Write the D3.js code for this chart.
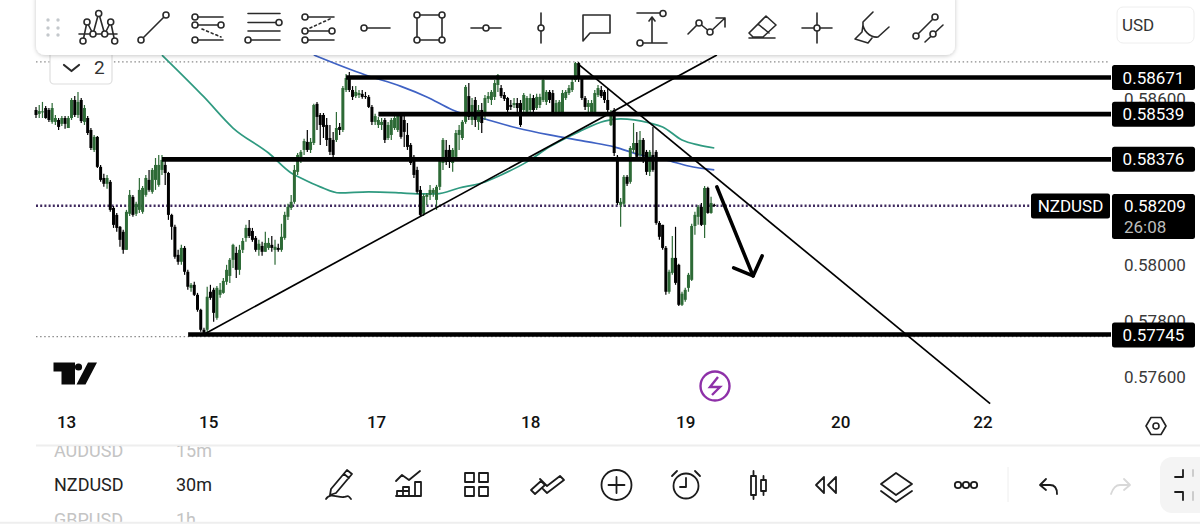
<!DOCTYPE html>
<html><head><meta charset="utf-8">
<script src="https://cdn.jsdelivr.net/npm/d3@7"></script>
<style>html,body{margin:0;padding:0;background:#fff;overflow:hidden}svg{display:block}text{font-family:Roboto,sans-serif}</style>
</head><body><svg id="c" width="1200" height="524"></svg>
<script>
// Prices are in units of 0.00001
const opens=[58554,58540,58547,58561,58554,58511,58511,58518,58504,58525,
58489,58525,58590,58536,58590,58511,58525,58482,58410,58457,
58349,58309,58288,58295,58201,58176,58133,58115,58050,58180,
58241,58180,58194,58187,58248,58302,58259,58302,58284,58338,
58356,58327,58176,58133,58032,58007,58057,57971,57913,57924,
57888,57834,57762,57762,57899,57906,57805,57888,57895,57935,
57956,58014,58039,57978,58050,58093,58129,58118,58093,58050,
58064,58043,58057,58068,58050,58057,58050,58093,58169,58201,
58223,58331,58374,58410,58439,58410,58435,58576,58536,58536,
58500,58453,58446,58446,58493,58482,58626,58669,58626,58604,
58608,58612,58604,58601,58565,58511,58500,58500,58518,58453,
58464,58489,58482,58536,58518,58464,58428,58385,58338,58266,
58180,58241,58248,58255,58230,58277,58363,58410,58410,58363,
58385,58464,58453,58511,58604,58518,58590,58511,58554,58536,
58594,58590,58601,58644,58633,58608,58597,58572,58572,58579,
58579,58554,58547,58554,58597,58561,58572,58590,58583,58619,
58615,58547,58543,58543,58597,58615,58626,58662,58723,58669,
58597,58565,58543,58543,58608,58626,58619,58590,58500,58554,
58385,58212,58216,58313,58295,58410,58435,58392,58446,58403,
58331,58392,58403,58147,58140,58057,57899,57967,58021,57996,
57852,57870,57913,57942,58136,58169,58205,58140,58273,58183,58212];
const closes=[58536,58550,58549,58525,58518,58561,58525,58493,58525,58504,
58525,58590,58536,58583,58514,58561,58471,58417,58457,58349,
58302,58288,58309,58194,58140,58129,58086,58050,58187,58248,
58176,58216,58266,58273,58309,58266,58338,58356,58356,58374,
58327,58176,58133,58025,58007,58057,57971,57917,57924,57888,
57834,57762,57751,57881,57877,57823,57913,57906,57938,57978,
58014,58068,57978,58050,58082,58129,58100,58086,58050,58072,
58043,58075,58075,58057,58061,58050,58097,58176,58205,58223,
58338,58392,58403,58442,58410,58439,58572,58529,58500,58493,
58446,58403,58392,58489,58482,58633,58669,58626,58601,58619,
58615,58601,58601,58565,58511,58532,58518,58511,58446,58500,
58518,58525,58536,58457,58475,58421,58363,58320,58259,58176,
58244,58248,58266,58266,58277,58374,58446,58367,58367,58410,
58471,58482,58511,58637,58529,58572,58518,58554,58507,58597,
58604,58619,58651,58680,58604,58594,58554,58565,58579,58561,
58500,58608,58597,58597,58554,58601,58601,58662,58619,58590,
58543,58579,58583,58615,58619,58633,58655,58723,58669,58597,
58565,58579,58579,58615,58633,58604,58590,58554,58547,58399,
58219,58223,58313,58288,58417,58435,58385,58446,58385,58331,
58403,58338,58147,58097,58057,57899,57971,58021,57931,57852,
57892,57906,57960,58136,58176,58205,58140,58273,58183,58219,58209];
const highs=[58565,58572,58583,58568,58561,58579,58536,58525,58532,58532,
58532,58597,58604,58619,58597,58572,58532,58489,58464,58460,
58356,58324,58320,58302,58208,58183,58136,58122,58194,58266,
58248,58223,58309,58280,58320,58338,58345,58381,58392,58392,
58374,58331,58180,58140,58050,58068,58064,57978,57931,57935,
57895,57838,57769,57917,57924,57913,57920,57931,57949,57996,
58021,58072,58061,58068,58093,58140,58158,58129,58100,58086,
58079,58115,58093,58100,58086,58072,58144,58187,58216,58248,
58356,58399,58410,58450,58482,58453,58576,58583,58543,58543,
58525,58500,58475,58547,58507,58640,58684,58691,58640,58640,
58626,58626,58619,58608,58572,58540,58529,58525,58525,58511,
58525,58536,58547,58543,58536,58507,58435,58392,58349,58280,
58252,58255,58284,58273,58284,58381,58453,58446,58428,58417,
58482,58500,58518,58644,58651,58597,58601,58572,58579,58608,
58619,58626,58662,58684,58644,58619,58601,58590,58597,58597,
58590,58615,58604,58612,58608,58612,58612,58669,58626,58626,
58626,58590,58590,58626,58626,58644,58669,58727,58727,58676,
58604,58590,58590,58626,58644,58640,58626,58633,58554,58561,
58392,58237,58320,58320,58424,58507,58475,58478,58453,58410,
58410,58493,58410,58154,58140,58064,57978,58100,58133,58000,
57899,57913,57967,58144,58187,58212,58219,58280,58277,58241,58216];
const lows=[58525,58525,58525,58522,58511,58504,58500,58482,58496,58486,
58489,58518,58529,58525,58507,58500,58464,58410,58403,58345,
58295,58277,58270,58187,58129,58115,58061,58036,58050,58172,
58169,58172,58183,58180,58241,58259,58252,58266,58277,58320,
58284,58158,58086,58018,57996,57996,57960,57906,57899,57884,
57827,57755,57744,57748,57870,57791,57798,57877,57892,57924,
57931,57985,57949,57960,58039,58079,58093,58079,58043,58029,
58029,58043,58050,58043,57996,58043,58043,58086,58158,58194,
58216,58320,58363,58392,58403,58399,58428,58482,58428,58453,
58424,58392,58385,58439,58464,58475,58619,58619,58590,58597,
58597,58594,58594,58561,58500,58500,58489,58482,58435,58446,
58446,58482,58475,58450,58421,58410,58356,58309,58252,58169,
58172,58212,58230,58241,58194,58266,58338,58356,58345,58331,
58374,58410,58446,58504,58518,58500,58493,58482,58471,58518,
58579,58572,58590,58619,58597,58586,58547,58554,58561,58547,
58493,58547,58536,58547,58547,58554,58561,58583,58572,58579,
58536,58540,58536,58536,58590,58608,58619,58655,58655,58590,
58554,58547,58540,58536,58601,58597,58579,58547,58496,58388,
58212,58133,58205,58280,58288,58399,58381,58385,58363,58320,
58316,58331,58140,58086,58050,57888,57892,57960,57924,57848,
57848,57863,57899,57938,58104,58140,58136,58093,58180,58180,58205];
const greenMaBar=[39,52,61,72,79,82,88,94,103,113,118,124,131,138,144,152,159,168,176,181,190,194,200,205,210];
const greenMa=[58752,58601,58489,58399,58327,58309,58277,58255,58259,58255,58252,58252,58273,58291,58320,58367,58421,58475,58514,58522,58507,58493,58446,58428,58417];
const blueMaBar=[86,102,113,121,129,140,149,159,171,179,187,195,202,210];
const blueMa=[58752,58680,58639,58601,58554,58518,58489,58464,58439,58421,58392,58374,58352,58338];
const levels=[58671,58539,58376,57745];
const levelStartBar=[96,106,39,47.1];
const levelLabels=["0.58671","0.58539","0.58376","0.57745"];
const priceTicks=[58600,58000,57800,57600];
const lastPrice=58209, sessionHigh=58727, sessionLow=57737;
const dayBars=[9.3,53.3,105.3,153,201,249,293];
const dayLabels=["13","15","17","18","19","20","22"];
const trendUp=[[52.3,57748],[210.8,58752]];
const trendDown=[[167.8,58720],[295.4,57496]];
const arrowShaft=[[210.8,58277],[222,57956]];
const arrowHead=[[216,57985],[222,57956],[224.8,58028]];

const svg=d3.select("#c");
const x=d3.scaleLinear().domain([0,300]).range([36,1005]);
const y=d3.scaleLinear().domain([57745,58671]).range([334.5,77.5]);
const INK="#000",GREEN="#2d6a36";
const candleData=d3.range(opens.length).map(i=>({i,o:opens[i],c:closes[i],h:highs[i],l:lows[i]}));
const plot=svg.append("g");

// dotted range lines
[[sessionHigh,"#8a8a8a",1.3,"1.5 2.6"],[sessionLow,"#8a8a8a",1.3,"1.5 2.6"],[lastPrice,"#3f2a5e",2.5,"2 2.2"]].forEach(d=>{
  plot.append("line").attr("x1",36).attr("x2",d[0]===lastPrice?1031:1110).attr("y1",y(d[0])).attr("y2",y(d[0]))
   .attr("stroke",d[1]).attr("stroke-width",d[2]).attr("stroke-dasharray",d[3]);
});
// moving averages
const ln=d3.line().x(d=>x(d[0])).y(d=>y(d[1])).curve(d3.curveMonotoneX);
plot.append("path").attr("d",ln(d3.zip(blueMaBar,blueMa))).attr("fill","none").attr("stroke","#3f62c4").attr("stroke-width",1.7);
plot.append("path").attr("d",ln(d3.zip(greenMaBar,greenMa))).attr("fill","none").attr("stroke","#2f9a80").attr("stroke-width",1.7);
// candles
const cg=plot.selectAll("g.k").data(candleData).join("g").attr("class","k");
const col=d=>d.c>=d.o?GREEN:INK;
cg.append("line").attr("x1",d=>x(d.i)).attr("x2",d=>x(d.i)).attr("y1",d=>y(d.h)).attr("y2",d=>y(d.l)).attr("stroke",col).attr("stroke-width",1.2);
cg.append("rect").attr("x",d=>x(d.i)-1.5).attr("width",3).attr("y",d=>y(Math.max(d.o,d.c))).attr("height",d=>Math.max(1,Math.abs(y(d.o)-y(d.c)))).attr("fill",col);
// trend lines
const tl=d3.line().x(d=>x(d[0])).y(d=>y(d[1]));
[trendUp,trendDown].forEach(t=>plot.append("path").attr("d",tl(t)).attr("fill","none").attr("stroke",INK).attr("stroke-width",1.7));
// levels
levels.forEach((v,i)=>plot.append("line").attr("x1",x(levelStartBar[i])).attr("x2",1111).attr("y1",y(v)).attr("y2",y(v)).attr("stroke",INK).attr("stroke-width",4.6));
// arrow
[arrowShaft,arrowHead].forEach(t=>plot.append("path").attr("d",tl(t)).attr("fill","none").attr("stroke",INK).attr("stroke-width",3.6).attr("stroke-linecap","round").attr("stroke-linejoin","round"));

// price axis
const ay=svg.append("g").attr("transform","translate(1112,0)")
 .call(d3.axisRight(y).tickValues(priceTicks).tickSize(0).tickPadding(12).tickFormat(v=>(v/1e5).toFixed(5)));
ay.select(".domain").remove();
ay.selectAll("text").attr("font-size",17).attr("fill","#3a3a3a").style("font-family","Roboto,sans-serif").attr("dy","0.4em");
ay.selectAll(".tick").filter(d=>d===57600).select("text").attr("dy","0.47em");
// time axis
const tickMap=new Map(dayBars.map((b,i)=>[b,dayLabels[i]]));
const ax=svg.append("g").attr("transform","translate(0,416)")
 .call(d3.axisBottom(x).tickValues(dayBars).tickSize(0).tickPadding(0).tickFormat(b=>tickMap.get(b)));
ax.select(".domain").remove();
ax.selectAll("text").attr("font-size",17).attr("font-weight",500).attr("fill","#111").style("font-family","Roboto,sans-serif");

// price labels
function tag(x0,w,yc,h,txt){svg.append("rect").attr("x",x0).attr("y",yc-h/2).attr("width",w).attr("height",h).attr("rx",2.5).attr("fill","#000");
 svg.append("text").attr("x",x0+w/2).attr("y",yc+6).attr("text-anchor","middle").attr("font-size",17).attr("fill","#fff").text(txt);}
levels.forEach((v,i)=>tag(1112,83,y(v)+ (i===3?0.5:0),25,levelLabels[i]));
svg.append("rect").attr("x",1112).attr("y",194).attr("width",83).attr("height",45).attr("rx",2.5).attr("fill","#000");
svg.append("text").attr("x",1124).attr("y",212).attr("font-size",17).attr("fill","#fff").text("0.58209");
svg.append("text").attr("x",1124).attr("y",233).attr("font-size",17).attr("fill","#bdbdbd").text("26:08");
tag(1031,79,206,25,"NZDUSD");

// TV logo
svg.append("path").attr("fill","#0a0a0a").attr("d","M53.5 362.5H75V384.5H61.5V371.5H53.5Z M76.5 384.5L88 362.5H97L85.5 384.5Z");
svg.append("circle").attr("cx",78.5).attr("cy",367).attr("r",3.6).attr("fill","#0a0a0a");
// lightning
svg.append("circle").attr("cx",715).attr("cy",386).attr("r",14.5).attr("fill","#fff").attr("stroke","#8e30a8").attr("stroke-width",2.4);
svg.append("path").attr("d","M718 377L710 387H720L712 395").attr("fill","none").attr("stroke","#8e30a8").attr("stroke-width",2.4);
// hex
const ic=svg.append("g").attr("fill","none").attr("stroke","#222").attr("stroke-width",1.6).attr("stroke-linejoin","round").attr("stroke-linecap","round");
ic.append("path").attr("d","M1146 426L1151 417.5H1161L1166 426L1161 434.5H1151Z");
ic.append("circle").attr("cx",1156).attr("cy",426).attr("r",3);

// collapse button (sits beneath the toolbar)
svg.append("path").attr("d","M50 50V80a4 4 0 0 0 4 4H108a4 4 0 0 0 4-4V50").attr("fill","#fff").attr("stroke","#dedede").attr("stroke-width",1.2);
svg.append("path").attr("d","M64 65L71.5 71L79 65").attr("fill","none").attr("stroke","#2a2a2a").attr("stroke-width",2.2).attr("stroke-linecap","round").attr("stroke-linejoin","round");
svg.append("text").attr("x",94).attr("y",74).attr("font-size",19).attr("fill","#333").text("2");

// top toolbar
svg.append("defs").html('<filter id="sh" x="-5%" y="-30%" width="110%" height="170%"><feDropShadow dx="0" dy="1" stdDeviation="2" flood-color="#000" flood-opacity=".22"/></filter>');
svg.append("rect").attr("x",36).attr("y",-10).attr("width",919).attr("height",65).attr("rx",9).attr("fill","#fff").attr("filter","url(#sh)");
[[48,20],[58,20],[48,28],[58,28],[48,35],[58,35]].forEach(p=>svg.append("circle").attr("cx",p[0]).attr("cy",p[1]).attr("r",1.7).attr("fill","#c4c8cc"));
const tb=svg.append("g").attr("fill","none").attr("stroke","#2a2a2a").attr("stroke-width",1.6).attr("stroke-linecap","round").attr("stroke-linejoin","round");
const P=d=>tb.append("path").attr("d",d);
const C=(a,b,r=3)=>tb.append("circle").attr("cx",a).attr("cy",b).attr("r",r).attr("fill","#fff");
P("M79 34H117M83 41L87 22L93 34L98.7 13L104.7 34L110.7 22L114.7 41");
[[98.7,13.5],[87,22],[110.7,22],[93,34],[104.7,34],[83,41],[114.7,41]].forEach(p=>C(p[0],p[1]));
P("M141 40L166 15");C(141,40);C(166,15);
P("M195 17H223M195 25H221M195 40H223");P("M202 29L221 37").attr("stroke-dasharray","2 3");C(195,17);C(195,25);C(221,25);C(195,40);
P("M248 13.5H280M248 22.5H279M248 31H280M248 40H280");C(279,22.5);C(248,40);
P("M305 17H334M305 31H332M305 40H334");P("M310 28L332 18").attr("stroke-dasharray","2 3");C(305,17);C(305,31);C(332,31);C(305,40);
P("M364 28H390");C(364,28);
P("M417 15H442V40H417Z");C(417,15);C(442,15);C(417,40);C(442,40);
P("M471 28H501");C(486,28);
P("M541 13V43");C(541,28);
P("M583 15H610V33H590L583 41Z");
P("M637 13H660M640 43H667M652 18V43M649 21L652 17L655 21");C(663,13.5);C(640,43);
P("M688 34L699 23L710 32L725 18M716 18H725V27");C(699,23);C(710,32);
P("M749 33L766 16L776 25L763 37H753ZM758 24L769 33M749 38H775");
P("M817 13V43M802 28H832");C(817,28);
P("M873 12L863 22C862 30 870 38 878 37L889 27M863 25L862 32L855 39L868 43L872 38");
P("M916 36L935 17M925 42L943 25");C(916,36);C(935,17);C(933,34);

// USD
svg.append("rect").attr("x",1117).attr("y",7).attr("width",77).attr("height",36).attr("rx",6).attr("fill","#fff").attr("stroke","#eeeeee");
svg.append("text").attr("x",1122).attr("y",31).attr("font-size",17).attr("fill","#333").text("USD");
tb.append("path").attr("d","M1181 23L1184 26L1187 23").attr("stroke-width",1.8);

// bottom panel
svg.append("rect").attr("x",0).attr("y",446).attr("width",1200).attr("height",78).attr("fill","#fff");
svg.append("line").attr("x1",36).attr("x2",1200).attr("y1",445.5).attr("y2",445.5).attr("stroke","#eeeeee").attr("stroke-width",2);
svg.append("clipPath").attr("id","lst").append("rect").attr("x",0).attr("y",446).attr("width",400).attr("height",76);
const lst=svg.append("g").attr("clip-path","url(#lst)");
[["AUDUSD","15m",457,"#c4c4c4"],["NZDUSD","30m",491,"#222"],["GBPUSD","1h",526,"#c4c4c4"]].forEach(r=>{
 lst.append("text").attr("x",54).attr("y",r[2]).attr("font-size",18).attr("fill",r[3]).text(r[0]);
 lst.append("text").attr("x",176).attr("y",r[2]).attr("font-size",18).attr("fill",r[3]).text(r[1]);});
svg.append("rect").attr("x",1160).attr("y",457).attr("width",60).attr("height",56).attr("rx",12).attr("fill","#f4f4f4");
const bb=svg.append("g").attr("fill","none").attr("stroke","#1c1c1c").attr("stroke-width",1.8).attr("stroke-linecap","round").attr("stroke-linejoin","round");
const B=d=>bb.append("path").attr("d",d);
B("M331 489L347 470L352 474L336 493L330 495ZM344 474L349 478M326 499C330 492 338 498 344 497C348 496 348 495 351 499");
B("M396 481L402 475L409 480L420 471M396 496H421V482H415V496M409 496V487H403V496M397 496V491H409");
B("M465 473h9v9h-9zM479 473h9v9h-9zM465 487h9v9h-9zM479 487h9v9h-9z");
B("M531 490L541 481L545 485L535 494ZM543 489L547 493L564 480L560 476L547 486L540 479");
bb.append("circle").attr("cx",616.5).attr("cy",485).attr("r",15);B("M616.5 477V493M608.5 485H624.5");
bb.append("circle").attr("cx",686).attr("cy",486).attr("r",12.5);B("M686 478V487H680M672 476L677 471M700 476L695 471");
B("M751 476h5v19h-5zM753.5 471V476M753.5 495V499M761 480h5v11h-5zM763.5 476V480M763.5 491V495");
B("M824 477L816 485L824 493ZM836 477L828 485L836 493V477Z");
B("M896 473L912 484L896 495L881 484ZM881 491L896 502L912 491");
[958,966,974].forEach(a=>bb.append("circle").attr("cx",a).attr("cy",485).attr("r",3.2));
svg.append("line").attr("x1",1008).attr("x2",1008).attr("y1",467).attr("y2",502).attr("stroke","#eeeeee");
B("M1046 479L1040 485L1046 490M1041 485H1050C1054 485 1057 488 1057 494");
B("M1124 479L1130 485L1124 490M1129 485H1120C1116 485 1113 488 1111 494").attr("stroke","#d8d8d8");
B("M1175 477H1183V470M1175 492H1183V500");
B("M1193 470V476M1193 500V492").attr("stroke","#c8c8c8");
svg.append("line").attr("x1",0).attr("x2",1200).attr("y1",522.8).attr("y2",522.8).attr("stroke","#eeeeee").attr("stroke-width",2);
</script></body></html>
